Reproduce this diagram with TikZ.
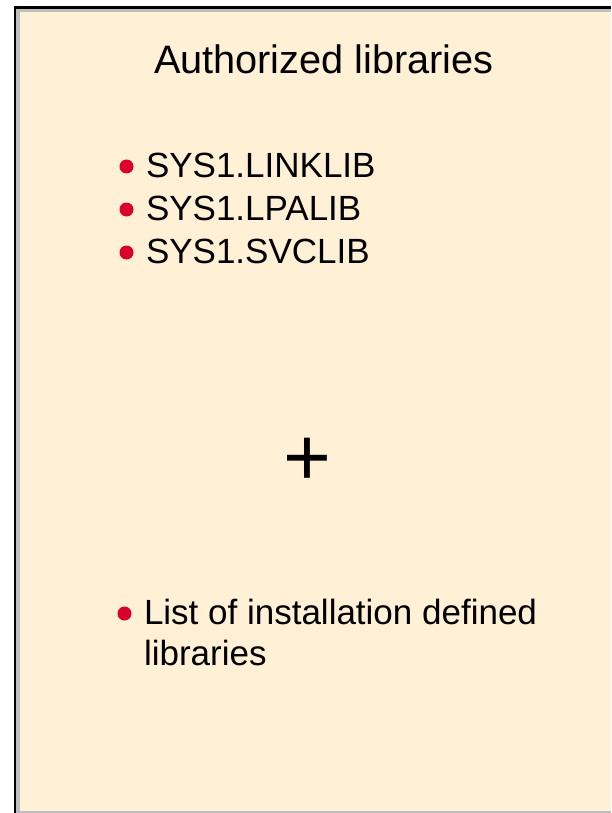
\documentclass[tikz,border=0pt]{standalone}
\usepackage{fontspec}
\setmainfont{Liberation Sans}
\definecolor{panelbg}{RGB}{255,240,214}
\definecolor{bulletred}{RGB}{218,0,46}
\definecolor{bandgrey}{RGB}{190,190,190}
\tikzset{
  label/.style={anchor=base west, inner sep=0pt, outer sep=0pt, text=black, font=\fontsize{35}{41}\selectfont},
  titlelabel/.style={anchor=base west, inner sep=0pt, outer sep=0pt, text=black, font=\fontsize{39.7}{46}\selectfont},
  dot/.style={circle, fill=bulletred, draw=none, minimum size=14pt, inner sep=0pt},
}
\begin{document}
\begin{tikzpicture}[x=1pt,y=-1pt]
\useasboundingbox (0,0) rectangle (611,813);
% panel
\fill[panelbg] (13.5,6) rectangle (611,813);
\fill[bandgrey] (16,9) rectangle (611,12);
\fill[bandgrey] (16,9) rectangle (20,813);
\fill[bandgrey] (20,811) rectangle (611,813);
\fill[black] (13.5,6) rectangle (611,9);
\fill[black] (13.5,6) rectangle (16,813);
% title
\node[titlelabel] (title) at (154,74) {Authorized libraries};
% bullets
\node[dot] (d1) at (126.5,166.5) {};
\node[label] (t1) at (146,178) {SYS1.LINKLIB};
\node[dot] (d2) at (126.5,209.5) {};
\node[label] (t2) at (146,220.5) {SYS1.LPALIB};
\node[dot] (d3) at (126.5,252.5) {};
\node[label] (t3) at (146,263) {SYS1.SVCLIB};
% plus
\node[inner sep=0pt, font=\fontsize{82}{82}\selectfont] (plus) at (307,462) {+};
% last bullet
\node[dot] (d4) at (124.5,613.5) {};
\node[label] (t4) at (144,624.5) {List of installation defined};
\node[label] (t5) at (144,665.5) {libraries};
\end{tikzpicture}
\end{document}
